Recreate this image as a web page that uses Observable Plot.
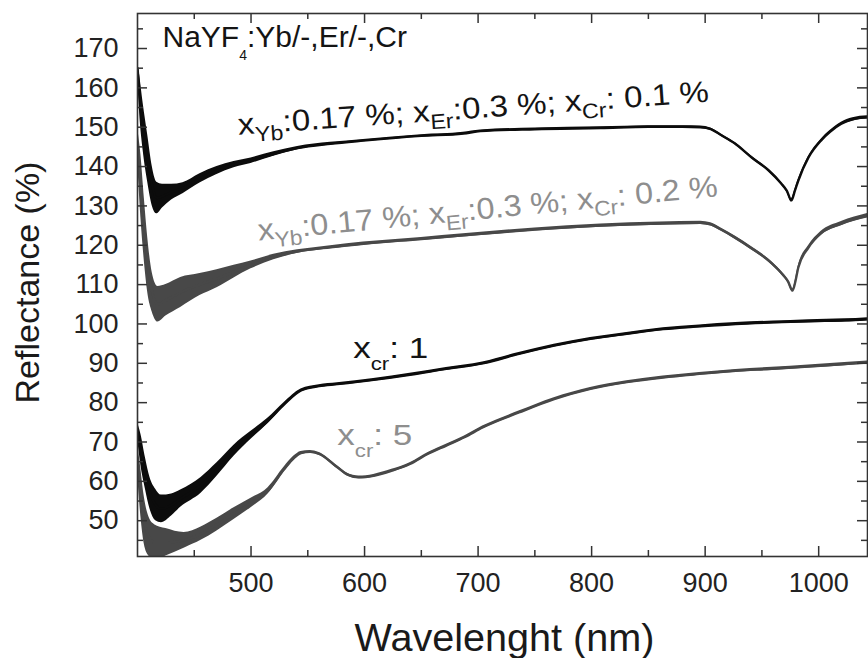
<!DOCTYPE html>
<html><head><meta charset="utf-8">
<script src="https://cdn.jsdelivr.net/npm/d3@7"></script>
<script src="https://cdn.jsdelivr.net/npm/@observablehq/plot@0.6"></script>
<style>
html,body{margin:0;padding:0;background:#fff;}
#chart{width:868px;height:658px;}
</style></head><body><div id="chart"></div>
<script>
// Series A: x_Yb 0.17 %, x_Er 0.3 %, x_Cr 0.1 % (black)
const wlA = [400,402,405,409,413,417,422,430,440,455,470,485,500,520,541,570,599,650,687,702,750,808,850,880,896,905,914,926,941,956,967,972,976,979,982,991,1002,1010,1020,1030,1043];
const rA  = [165,158,150,142,135,132,132.5,133.5,134.5,137,139,140.5,141.5,143.2,144.7,145.8,146.6,147.8,148.4,149,149.5,149.8,150.1,150.1,150,149.5,148,145.9,142.3,139,135.7,133.8,131.4,133.8,136.4,142.3,146.6,148.8,150.9,152,152.5];
const nA  = [2,5,6,6,5,4,3,2,1.4,1.2,1,0.8,0.7,0.55,0.4,0.35,0.3,0.3,0.3,0.3,0.3,0.3,0.3,0.3,0.3,0.3,0.3,0.3,0.3,0.3,0.3,0.3,0.4,0.3,0.3,0.3,0.3,0.35,0.35,0.4,0.4];

// Series B: x_Yb 0.17 %, x_Er 0.3 %, x_Cr 0.2 % (grey)
const wlB = [400,403,406,409,413,418,425,438,455,470,485,500,520,541,570,599,650,687,750,808,860,896,905,914,926,941,956,967,973,977,980,982,991,1002,1020,1043];
const rB  = [146,135,124,115,108,105,106,108,110,111.5,113.3,115,117,118.4,119.5,120.4,121.6,122.5,124,125,125.5,125.7,125.3,124,122,119.2,116.1,113,110.8,108.5,111.5,114.3,119.4,123,125.5,127.5];
const nB  = [4,8,8,7,5,4.5,4,3.8,2.8,2.3,1.6,1,0.7,0.45,0.4,0.4,0.4,0.4,0.4,0.4,0.4,0.4,0.4,0.4,0.4,0.4,0.4,0.4,0.4,0.4,0.4,0.4,0.45,0.5,0.55,0.6];

// Series C: x_Cr 1 (black)
const wlC = [400,403,407,411,416,421,430,438,456,470,485,500,515,529,544,560,576,608,640,672,704,736,767,799,831,863,895,927,960,991,1023,1043];
const rC  = [73,68,62,57,54,53,54,55.6,59,63,67.8,71.7,75.4,79.5,83.1,84.2,84.7,85.8,87.1,88.6,90,92.4,94.5,96.2,97.5,98.7,99.4,100,100.4,100.7,100.9,101.2];
const nC  = [2,4,4,4,4,3.5,2.8,2.2,2,1.7,1.4,1,0.7,0.5,0.4,0.35,0.35,0.35,0.35,0.35,0.35,0.35,0.35,0.35,0.35,0.35,0.35,0.35,0.35,0.4,0.4,0.4];

// Series D: x_Cr 5 (grey)
const wlD = [400,403,406,410,415,425,441,456,470,485,500,515,529,538,544,552,560,576,585,595,608,624,640,656,672,688,704,736,767,799,831,863,895,927,959,991,1023,1043];
const rD  = [66,57,50,46,44.5,44.5,45,46.7,49,51.8,54.5,57.6,63,66,67.2,67.5,67,63.6,61.7,61,61.4,62.7,64.4,67,69.1,71.2,73.7,77.5,80.9,83.5,85.2,86.4,87.3,88.1,88.6,89.2,89.8,90.2];
const nD  = [4,6,6,5,4.5,3.5,2,1.7,1.6,1.5,1.2,0.8,0.6,0.5,0.4,0.35,0.35,0.35,0.35,0.35,0.35,0.35,0.35,0.35,0.35,0.35,0.35,0.35,0.35,0.35,0.35,0.35,0.35,0.35,0.4,0.4,0.4,0.4];

// Ticks
const xMajor = [500,600,700,800,900,1000];
const xMinor = [450,550,650,750,850,950];
const xTickLabels = ["500","600","700","800","900","1000"];
const yMajor = [50,60,70,80,90,100,110,120,130,140,150,160,170];
const yMinor = [45,55,65,75,85,95,105,115,125,135,145,155,165,175];
const yTickLabels = ["50","60","70","80","90","100","110","120","130","140","150","160","170"];

// Texts
const xLabel = "Wavelenght (nm)";
const yLabel = "Reflectance (%)";
const annTexts = ["NaYF_{4}:Yb/-,Er/-,Cr", "x_{Yb}:0.17 %; x_{Er}:0.3 %; x_{Cr}: 0.1 %", "x_{Yb}:0.17 %; x_{Er}:0.3 %; x_{Cr}: 0.2 %", "x_{cr}: 1", "x_{cr}: 5"];
const annX = [422, 489, 506.7, 590, 576];
const annY = [170.3, 148.1, 121.2, 91.4, 69.3];

// styles
const annStyle = [
  {color: "#141414", rotate: 0,    len: null, subSize: 14, subShift: 13},
  {color: "#141414", rotate: -4,   len: 472,  subSize: 21, subShift: 8},
  {color: "#8e8e8e", rotate: -5.5, len: 462,  subSize: 21, subShift: 8},
  {color: "#141414", rotate: 0,    len: 75,   subSize: 19, subShift: 12},
  {color: "#8e8e8e", rotate: 0,    len: 75,   subSize: 19, subShift: 12}
];
const BLACK = "#0c0c0c", GREY = "#484848", AXIS = "#333";
const W = 868, H = 658, ML = 137, MR = 1, MT = 13, MB = 102;
const FW = W - ML - MR, FH = H - MT - MB;
const XD = [400, 1043], YD = [40.9, 178.9];
const MAJ = 10, MIN = 6;
const xUnit = (XD[1] - XD[0]) / FW, yUnit = (YD[1] - YD[0]) / FH;

const rows = (w, r, n) => w.map((x, i) => ({w: x, r: r[i], n: n[i]}));
const A = rows(wlA, rA, nA), B = rows(wlB, rB, nB), C = rows(wlC, rC, nC), D = rows(wlD, rD, nD);

function series(data, color) {
  return [
    Plot.areaY(data, {x: "w", y1: d => d.r - d.n, y2: d => d.r + d.n, fill: color, curve: "monotone-x", clip: true}),
    Plot.line(data, {x: "w", y: "r", stroke: color, strokeWidth: 2.4, curve: "monotone-x", clip: true})
  ];
}
const tickStyle = {stroke: AXIS, strokeWidth: 1.5};
const xTicks = (vals, len, atTop) => Plot.ruleX(vals, {x: d => d,
  y1: atTop ? YD[1] : YD[0], y2: atTop ? YD[1] - len * yUnit : YD[0] + len * yUnit, ...tickStyle});
const yTicks = (vals, len, atRight) => Plot.ruleY(vals, {y: d => d,
  x1: atRight ? XD[1] : XD[0], x2: atRight ? XD[1] - len * xUnit : XD[0] + len * xUnit, ...tickStyle});

const annIdx = annTexts.map((_, i) => i);

const chart = Plot.plot({
  width: W, height: H,
  marginLeft: ML, marginRight: MR, marginTop: MT, marginBottom: MB,
  x: {domain: XD},
  y: {domain: YD},
  style: {fontFamily: "'Liberation Sans', Arial, Helvetica, sans-serif", fontSize: "27px", color: "#222", background: "#fff", overflow: "visible"},
  marks: [
    ...series(B, GREY),
    ...series(A, BLACK),
    ...series(D, GREY),
    ...series(C, BLACK),
    // inward ticks on all four sides
    xTicks(xMajor, MAJ, false), xTicks(xMinor, MIN, false),
    xTicks(xMajor, MAJ, true),  xTicks(xMinor, MIN, true),
    yTicks(yMajor, MAJ, false), yTicks(yMinor, MIN, false),
    yTicks(yMajor, MAJ, true),  yTicks(yMinor, MIN, true),
    // tick labels
    Plot.axisX(xMajor, {anchor: "bottom", tickSize: 0, tickPadding: 16, fontSize: 27, fill: "#222", label: null, tickFormat: d => xTickLabels[xMajor.indexOf(d)]}),
    Plot.axisY(yMajor, {anchor: "left", tickSize: 0, tickPadding: 19, fontSize: 27, fill: "#222", label: null, tickFormat: d => yTickLabels[yMajor.indexOf(d)]}),
    Plot.frame({stroke: AXIS, strokeWidth: 1.6}),
    // axis titles
    Plot.text([xLabel], {text: d => d, frameAnchor: "bottom", dy: 94, dx: 2, textAnchor: "middle", lineAnchor: "bottom", fontSize: 38, fill: "#1a1a1a"}),
    Plot.text([yLabel], {text: d => d, frameAnchor: "left", dx: -99, dy: -2.5, rotate: -90, textAnchor: "middle", lineAnchor: "bottom", fontSize: 34, fill: "#1a1a1a"}),
    // annotations
    Plot.text(annIdx, {x: i => annX[i], y: i => annY[i], text: i => annTexts[i], fill: i => annStyle[i].color, rotate: i => annStyle[i].rotate, textAnchor: "start", lineAnchor: "bottom", fontSize: 30})
  ]
});

// rich text (subscripts) for annotations
const NS = "http://www.w3.org/2000/svg";
d3.select(chart).selectAll("text").each(function() {
  const s = this.textContent;
  const k = annTexts.indexOf(s);
  if (k < 0) return;
  const st = annStyle[k];
  const parts = s.split(/_\{([^}]*)\}/);
  while (this.firstChild) this.removeChild(this.firstChild);
  let shifted = false;
  parts.forEach((p, j) => {
    if (!p) return;
    const t = document.createElementNS(NS, "tspan");
    t.textContent = p;
    if (j % 2 === 1) { t.setAttribute("font-size", st.subSize); t.setAttribute("dy", st.subShift); shifted = true; }
    else if (shifted) { t.setAttribute("dy", -st.subShift); shifted = false; }
    this.appendChild(t);
  });
  if (st.len) { this.setAttribute("textLength", st.len); this.setAttribute("lengthAdjust", "spacingAndGlyphs"); }
});
d3.select(chart).selectAll("text").filter(function() { return this.textContent === xLabel; })
  .attr("textLength", 300).attr("lengthAdjust", "spacingAndGlyphs");

document.getElementById("chart").appendChild(chart);
</script>
</body></html>
